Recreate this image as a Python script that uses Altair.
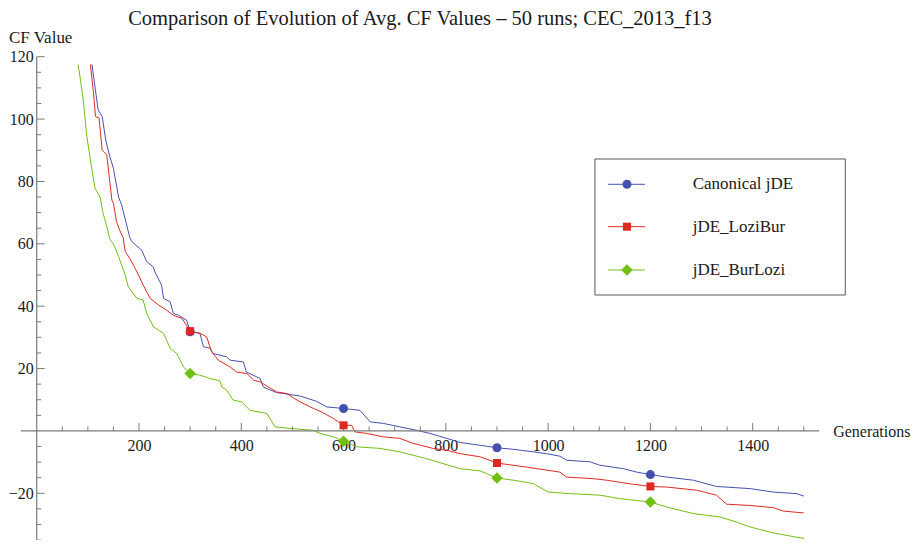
import altair as alt
import pandas as pd

FONT = "Liberation Serif"
TITLE = "Comparison of Evolution of Avg. CF Values \u2013 50 runs; CEC_2013_f13"
SERIES = ["Canonical jDE", "jDE_LoziBur", "jDE_BurLozi"]
COLORS = ["#4450b0", "#e02820", "#70c010"]
SHAPES = ["circle", "square", "diamond"]
SIZES = [81, 64, 132]
MARKER_GENS = [300, 600, 900, 1200]

X_MAJOR = [200, 400, 600, 800, 1000, 1200, 1400]
X_MINOR = [g for g in range(50, 1501, 50) if g % 200 != 0]
Y_MAJOR = [-20, 20, 40, 60, 80, 100, 120]
Y_MINOR = [v for v in range(-35, 120, 5) if v % 20 != 0]

blue_gen = [108, 120, 128, 135, 142, 150, 160, 166, 182, 186, 205, 215, 228, 231, 244, 248, 261, 267,
            277, 293, 300, 319, 326, 339, 345, 371, 378, 404, 410, 437, 443, 450, 469, 502, 515, 547,
            567, 600, 632, 652, 678, 710, 743, 769, 802, 828, 867, 900, 932, 971, 997, 1023, 1036,
            1082, 1101, 1147, 1173, 1200, 1232, 1284, 1329, 1395, 1440, 1486, 1500]
blue_val = [117.5, 103, 100.8, 93.3, 88.5, 84.2, 75, 72.5, 62, 60.7, 58, 54.3, 52.6, 51, 46.8, 42.5,
            41.4, 37.7, 37.1, 35.5, 31.8, 31.3, 27, 26.5, 24.8, 23.8, 22.7, 22.1, 18.9, 16.8, 14.1,
            13.6, 12.3, 11.5, 11.2, 9.5, 7.7, 7.2, 6.6, 2.9, 2.4, 1.3, 0.2, -0.8, -2.4, -3.7, -4.6,
            -5.4, -5.9, -6.7, -7.3, -8.1, -9.4, -9.9, -11, -12.1, -13.2, -14, -14.8, -15.8, -17.8,
            -18.5, -19.6, -20.1, -20.9]

red_gen = [105, 111, 115, 122, 128, 137, 147, 150, 156, 162, 169, 173, 182, 189, 199, 208, 222, 238,
           254, 267, 284, 300, 319, 332, 342, 355, 378, 391, 411, 424, 437, 450, 469, 489, 502, 515,
           541, 557, 580, 600, 616, 622, 645, 678, 710, 736, 775, 802, 828, 867, 900, 958, 1023,
           1036, 1088, 1114, 1166, 1200, 1232, 1290, 1329, 1349, 1395, 1440, 1460, 1500]
red_val = [117.5, 108.3, 100.8, 100.3, 90, 88.5, 74, 73, 67.1, 64.4, 62, 57.5, 55.3, 53.2, 50, 46.8,
           42.5, 40.4, 38.7, 37.1, 36.1, 32, 31.3, 30.2, 25.4, 22.7, 20.5, 18.9, 18.4, 16.3, 15.7,
           14.4, 12.5, 12, 10.6, 9.3, 7.2, 6.1, 4, 1.8, 1.8, -0.3, -0.8, -1.9, -2.4, -4, -5.6, -6.2,
           -7.3, -8.3, -10.3, -11.6, -13.2, -14.8, -15.3, -15.8, -17.1, -17.8, -18, -19, -20.6,
           -23.5, -23.9, -24.6, -25.7, -26.3]

green_gen = [81, 86, 91, 98, 107, 114, 124, 129, 137, 143, 150, 160, 173, 179, 196, 208, 215, 228,
             248, 261, 274, 287, 300, 319, 339, 358, 362, 371, 384, 401, 417, 450, 466, 495, 541,
             554, 580, 600, 626, 671, 710, 762, 828, 867, 900, 932, 971, 1000, 1042, 1101, 1140,
             1200, 1232, 1284, 1336, 1368, 1395, 1440, 1500]
green_val = [117.5, 112, 106, 94.4, 84.8, 77.8, 75, 70.3, 65.5, 61.5, 60, 55.9, 50, 46.2, 42.5, 42,
             37.7, 33.4, 31.3, 26.5, 24.8, 20.5, 18.4, 17.9, 16.8, 16.1, 14.1, 13.1, 9.9, 9.3, 6.6,
             5.6, 1.3, 0.8, 0.2, -0.8, -1.9, -3.3, -5.1, -5.6, -6.7, -8.9, -12.1, -12.8, -15.1,
             -15.8, -16.9, -19.6, -20.1, -20.6, -21.7, -22.8, -24.4, -26.5, -27.6, -29.2, -30.8,
             -32.7, -34.5]

rows = []
for name, gens, vals in zip(SERIES, [blue_gen, red_gen, green_gen], [blue_val, red_val, green_val]):
    for g, v in zip(gens, vals):
        rows.append({"series": name, "gen": g, "val": v})
df = pd.DataFrame(rows)

X_DOMAIN = [-31, 1530]
Y_DOMAIN = [-34.9, 120]
W = 798.3
H = 483.07
AX = "#7a7a7a"
TXT = "#1a1a1a"

xscale = alt.Scale(domain=X_DOMAIN, nice=False, zero=False)
yscale = alt.Scale(domain=Y_DOMAIN, nice=False, zero=False)

x_axis = alt.Axis(values=X_MAJOR, format="d", offset=-108.9, domain=False, ticks=False, tickSize=0,
                  grid=False, labelFont=FONT, labelFontSize=16, labelColor=TXT, labelPadding=7,
                  labelFlush=False, labelOverlap=False,
                  title="Generations", titleX=811.8, titleY=5.8, titleAlign="left",
                  titleBaseline="alphabetic", titleFont=FONT, titleFontSize=16,
                  titleFontWeight="normal", titleColor=TXT)
y_axis = alt.Axis(values=Y_MAJOR, format="d", offset=-15.85, domain=False, ticks=False, tickSize=0,
                  grid=False, labelFont=FONT, labelFontSize=16, labelColor=TXT, labelPadding=3.5,
                  labelFlush=False, labelOverlap=False,
                  title="CF Value", titleAngle=0, titleX=-28.2, titleY=-14.2, titleAlign="left",
                  titleBaseline="alphabetic", titleFont=FONT, titleFontSize=17,
                  titleFontWeight="normal", titleColor=TXT)


def X(field="gen"):
    return alt.X(f"{field}:Q", scale=xscale, axis=x_axis)


def Y(field="val"):
    return alt.Y(f"{field}:Q", scale=yscale, axis=y_axis)


color = alt.Color("series:N", scale=alt.Scale(domain=SERIES, range=COLORS), legend=None)

lines = alt.Chart(df).mark_line(strokeWidth=1).encode(
    x=X(), y=Y(), color=color, order="gen:Q",
)

layers = [lines]

# axis lines
xline = alt.Chart(pd.DataFrame({"gen": [X_DOMAIN[0]], "gen2": [X_DOMAIN[1]], "val": [0]})).mark_rule(
    color=AX, strokeWidth=1.2).encode(x=X(), x2="gen2:Q", y=Y())
yline = alt.Chart(pd.DataFrame({"gen": [0], "val": [Y_DOMAIN[1]], "val2": [Y_DOMAIN[0]]})).mark_rule(
    color=AX, strokeWidth=1.2).encode(x=X(), y=Y(), y2="val2:Q")
layers += [xline, yline]


def xticks(values, length):
    d = pd.DataFrame({"gen": values, "val": [0] * len(values)})
    return alt.Chart(d).mark_rule(color=AX, strokeWidth=1, y2Offset=-length).encode(
        x=X(), y=Y(), y2="val:Q")


def yticks(values, length):
    d = pd.DataFrame({"gen": [0] * len(values), "val": values})
    return alt.Chart(d).mark_rule(color=AX, strokeWidth=1, x2Offset=length).encode(
        x=X(), y=Y(), x2="gen:Q")


layers += [xticks(X_MAJOR, 8), xticks(X_MINOR, 4.5), yticks(Y_MAJOR, 8), yticks(Y_MINOR, 4.5)]

for name, col, shp, sz in zip(SERIES, COLORS, SHAPES, SIZES):
    dm = df[(df.series == name) & (df.gen.isin(MARKER_GENS))]
    layers.append(alt.Chart(dm).mark_point(filled=True, opacity=1, shape=shp, size=sz, color=col).encode(
        x=X(), y=Y()))

# legend box
one = pd.DataFrame({"a": [0]})
layers.append(alt.Chart(one).mark_rect(fill="white", stroke="#555555", strokeWidth=1).encode(
    x=alt.value(574.1), x2=alt.value(824.4), y=alt.value(102.3), y2=alt.value(238.3)))
row_y = [127.6, 170.0, 213.3]
for name, col, shp, sz, yy in zip(SERIES, COLORS, SHAPES, SIZES, row_y):
    layers.append(alt.Chart(one).mark_rule(color=col, strokeWidth=1).encode(
        x=alt.value(587.1), x2=alt.value(624.1), y=alt.value(yy)))
    layers.append(alt.Chart(one).mark_point(filled=True, opacity=1, shape=shp, size=sz, color=col).encode(
        x=alt.value(606.1), y=alt.value(yy)))
    layers.append(alt.Chart(one).mark_text(align="left", baseline="middle", font=FONT, fontSize=17,
                                          color=TXT).encode(
        x=alt.value(671.8), y=alt.value(yy), text=alt.value(name)))

chart = alt.layer(*layers).properties(
    width=W, height=H,
    title=alt.TitleParams(TITLE, font=FONT, fontSize=20.5, fontWeight="normal", color=TXT,
                          anchor="middle", frame="group", offset=-1),
    autosize=alt.AutoSizeParams(type="none"),
    padding={"left": 12.87, "top": 48.7, "right": 92.8, "bottom": 0},
).configure_view(stroke=None)

chart.save("out.html", embed_options={"renderer": "svg", "actions": False})
